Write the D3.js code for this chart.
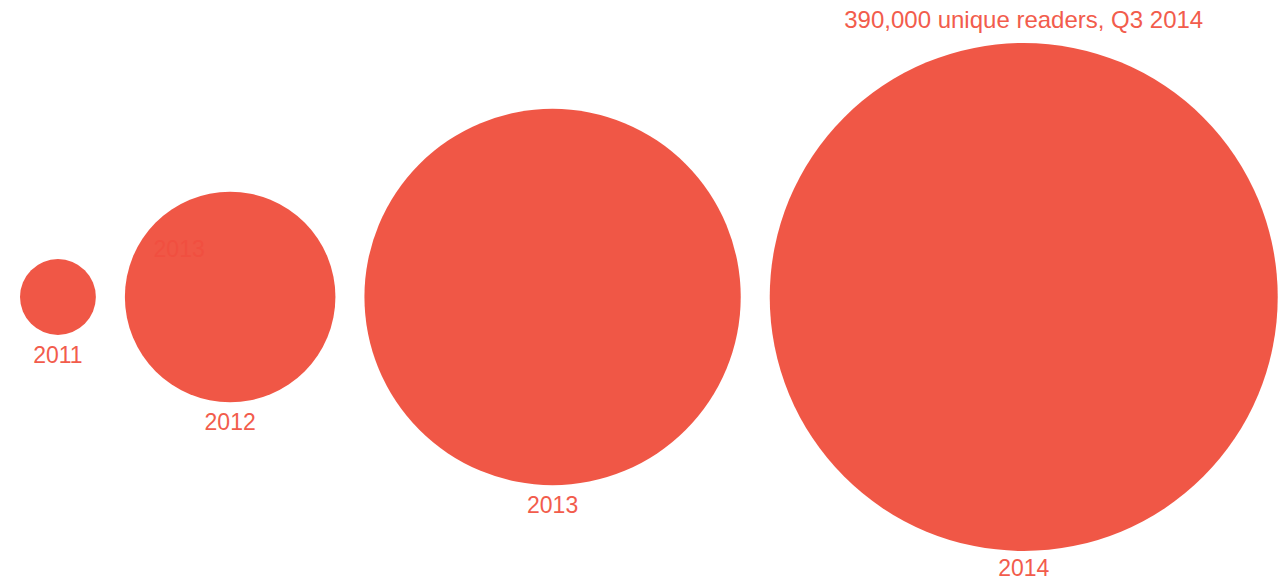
<!DOCTYPE html>
<html>
<head>
<meta charset="utf-8">
<script src="https://cdn.jsdelivr.net/npm/d3@7"></script>
<style>
  html, body { margin: 0; padding: 0; background: #fff; }
  svg { display: block; font-family: "Liberation Sans", Arial, sans-serif; }
</style>
</head>
<body>
<div id="chart"></div>
<script>
// unique readers per year (Q3), circle area ~ readers
const years = ["2011", "2012", "2013", "2014"];
const readers = [8700, 67000, 214000, 390000];
const headline = "390,000 unique readers, Q3 2014";

const width = 1286, height = 581;
const left = 20, gap = 29, cy = 297;
const red = "#f05746";

const svg = d3.select("#chart").append("svg")
    .attr("width", width)
    .attr("height", height);

const r = d3.scaleSqrt()
    .domain([0, d3.max(readers)])
    .range([0, 254]);

const data = years.map((y, i) => ({ year: y, value: readers[i] }));

// lay circles out left to right with a fixed gap
let cursor = left;
data.forEach(d => {
    d.r = r(d.value);
    d.cx = cursor + d.r;
    cursor += 2 * d.r + gap;
});

const g = svg.selectAll(".bubble")
    .data(data)
    .enter()
    .append("g")
    .attr("class", "bubble")
    .attr("transform", d => `translate(${d.cx}, ${cy})`);

g.append("circle")
    .attr("r", d => d.r)
    .style("fill", red);

g.append("text")
    .attr("y", d => Math.min(d.r + 28, height - cy - 5))
    .attr("text-anchor", "middle")
    .style("font-size", "23px")
    .style("fill", "#f25c4c")
    .text(d => d.year);

// faint leftover label sitting on the 2012 bubble
const d12 = data[1];
svg.append("text")
    .attr("x", d12.cx - 51)
    .attr("y", cy - 40)
    .attr("text-anchor", "middle")
    .style("font-size", "23px")
    .style("fill", "#f14f40")
    .text(years[2]);

const last = data[data.length - 1];
svg.append("text")
    .attr("x", last.cx)
    .attr("y", cy - last.r - 15)
    .attr("text-anchor", "middle")
    .style("font-size", "24px")
    .style("fill", "#f25c4c")
    .text(headline);
</script>
</body>
</html>
